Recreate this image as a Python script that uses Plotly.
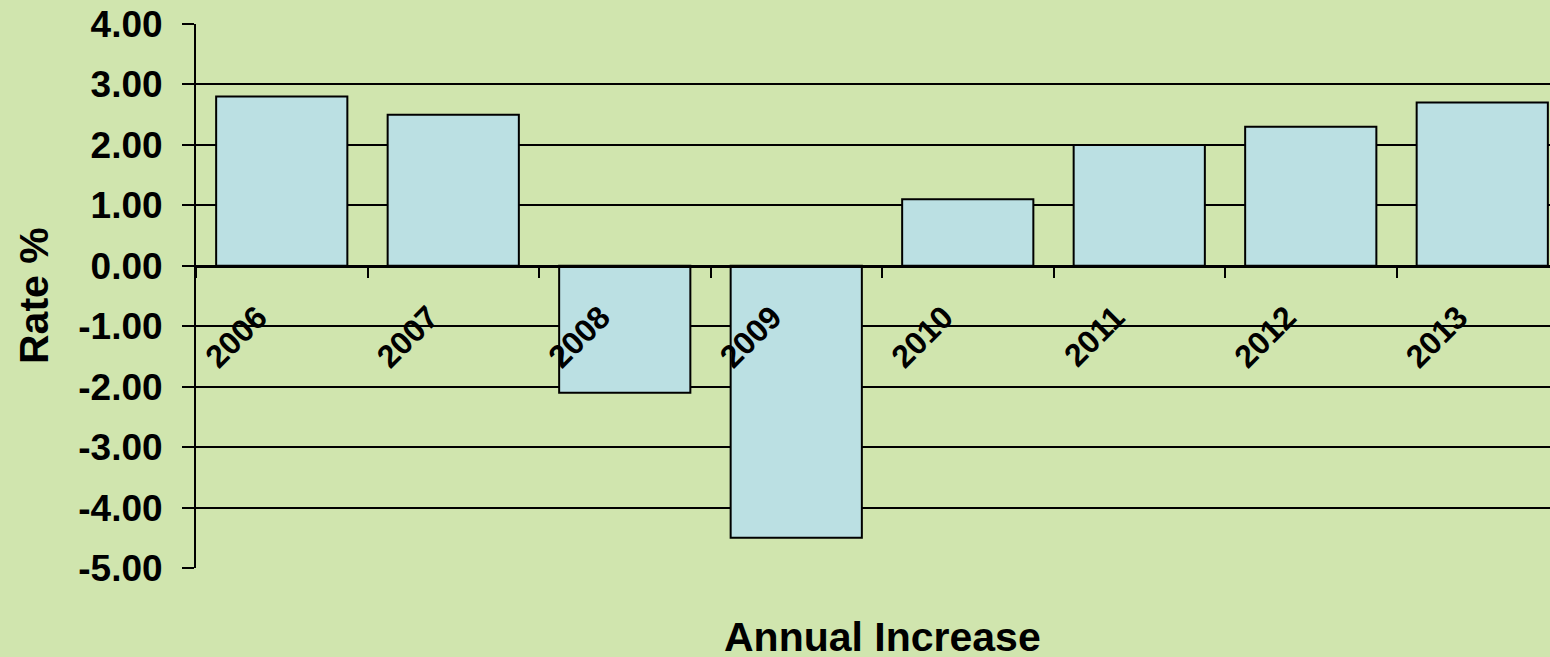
import plotly.graph_objects as go

years = ["2006", "2007", "2008", "2009", "2010", "2011", "2012", "2013"]
rates = [2.8, 2.5, -2.1, -4.5, 1.1, 2.0, 2.3, 2.7]
y_ticks = [4, 3, 2, 1, 0, -1, -2, -3, -4, -5]
y_tick_labels = ["4.00", "3.00", "2.00", "1.00", "0.00", "-1.00", "-2.00", "-3.00", "-4.00", "-5.00"]

BG = "#D0E5AE"
BAR = "#BBE0E3"
FONT = "Arial, Liberation Sans, sans-serif"

fig = go.Figure()
fig.add_trace(go.Bar(
    x=years, y=rates, width=0.765,
    marker=dict(color=BAR, line=dict(color="black", width=2)),
))

fig.update_layout(
    width=1550, height=657,
    paper_bgcolor=BG, plot_bgcolor=BG,
    margin=dict(l=196, r=0, t=24, b=89),
    showlegend=False,
    font=dict(family=FONT, color="black"),
    xaxis=dict(
        type="category", range=[-0.5, 7.395],
        anchor="free", position=5/9,
        showgrid=False, zeroline=False,
        showline=True, linecolor="black", linewidth=3,
        ticks="outside", tickson="boundaries", ticklen=10, tickwidth=2, tickcolor="black",
        tickangle=-45,
        tickfont=dict(family=FONT, size=32, weight="bold"),
        ticklabelstandoff=18, ticklabelshift=-24,
    ),
    yaxis=dict(
        range=[-5, 4], tickvals=y_ticks, ticktext=y_tick_labels,
        showgrid=True, gridcolor="black", gridwidth=2,
        zeroline=False,
        showline=True, linecolor="black", linewidth=2,
        ticks="outside", ticklen=12, tickwidth=2, tickcolor="black",
        tickfont=dict(family=FONT, size=37, weight="bold"),
        ticklabelstandoff=12,
    ),
    annotations=[
        dict(text="Annual Increase", xref="x", x=3.5, yref="paper", y=(568 - 637) / 544,
             xanchor="center", yanchor="middle", showarrow=False,
             font=dict(family=FONT, size=41, weight="bold")),
        dict(text="Rate %", xref="paper", x=(34 - 196) / 1354, yref="paper", y=0.5,
             xanchor="center", yanchor="middle", showarrow=False, textangle=-90,
             font=dict(family=FONT, size=41, weight="bold")),
    ],
)

fig.write_html(
    "out.html",
    config={"displayModeBar": False},
    post_script="document.body.style.margin='0';document.body.style.background='" + BG + "';",
)
